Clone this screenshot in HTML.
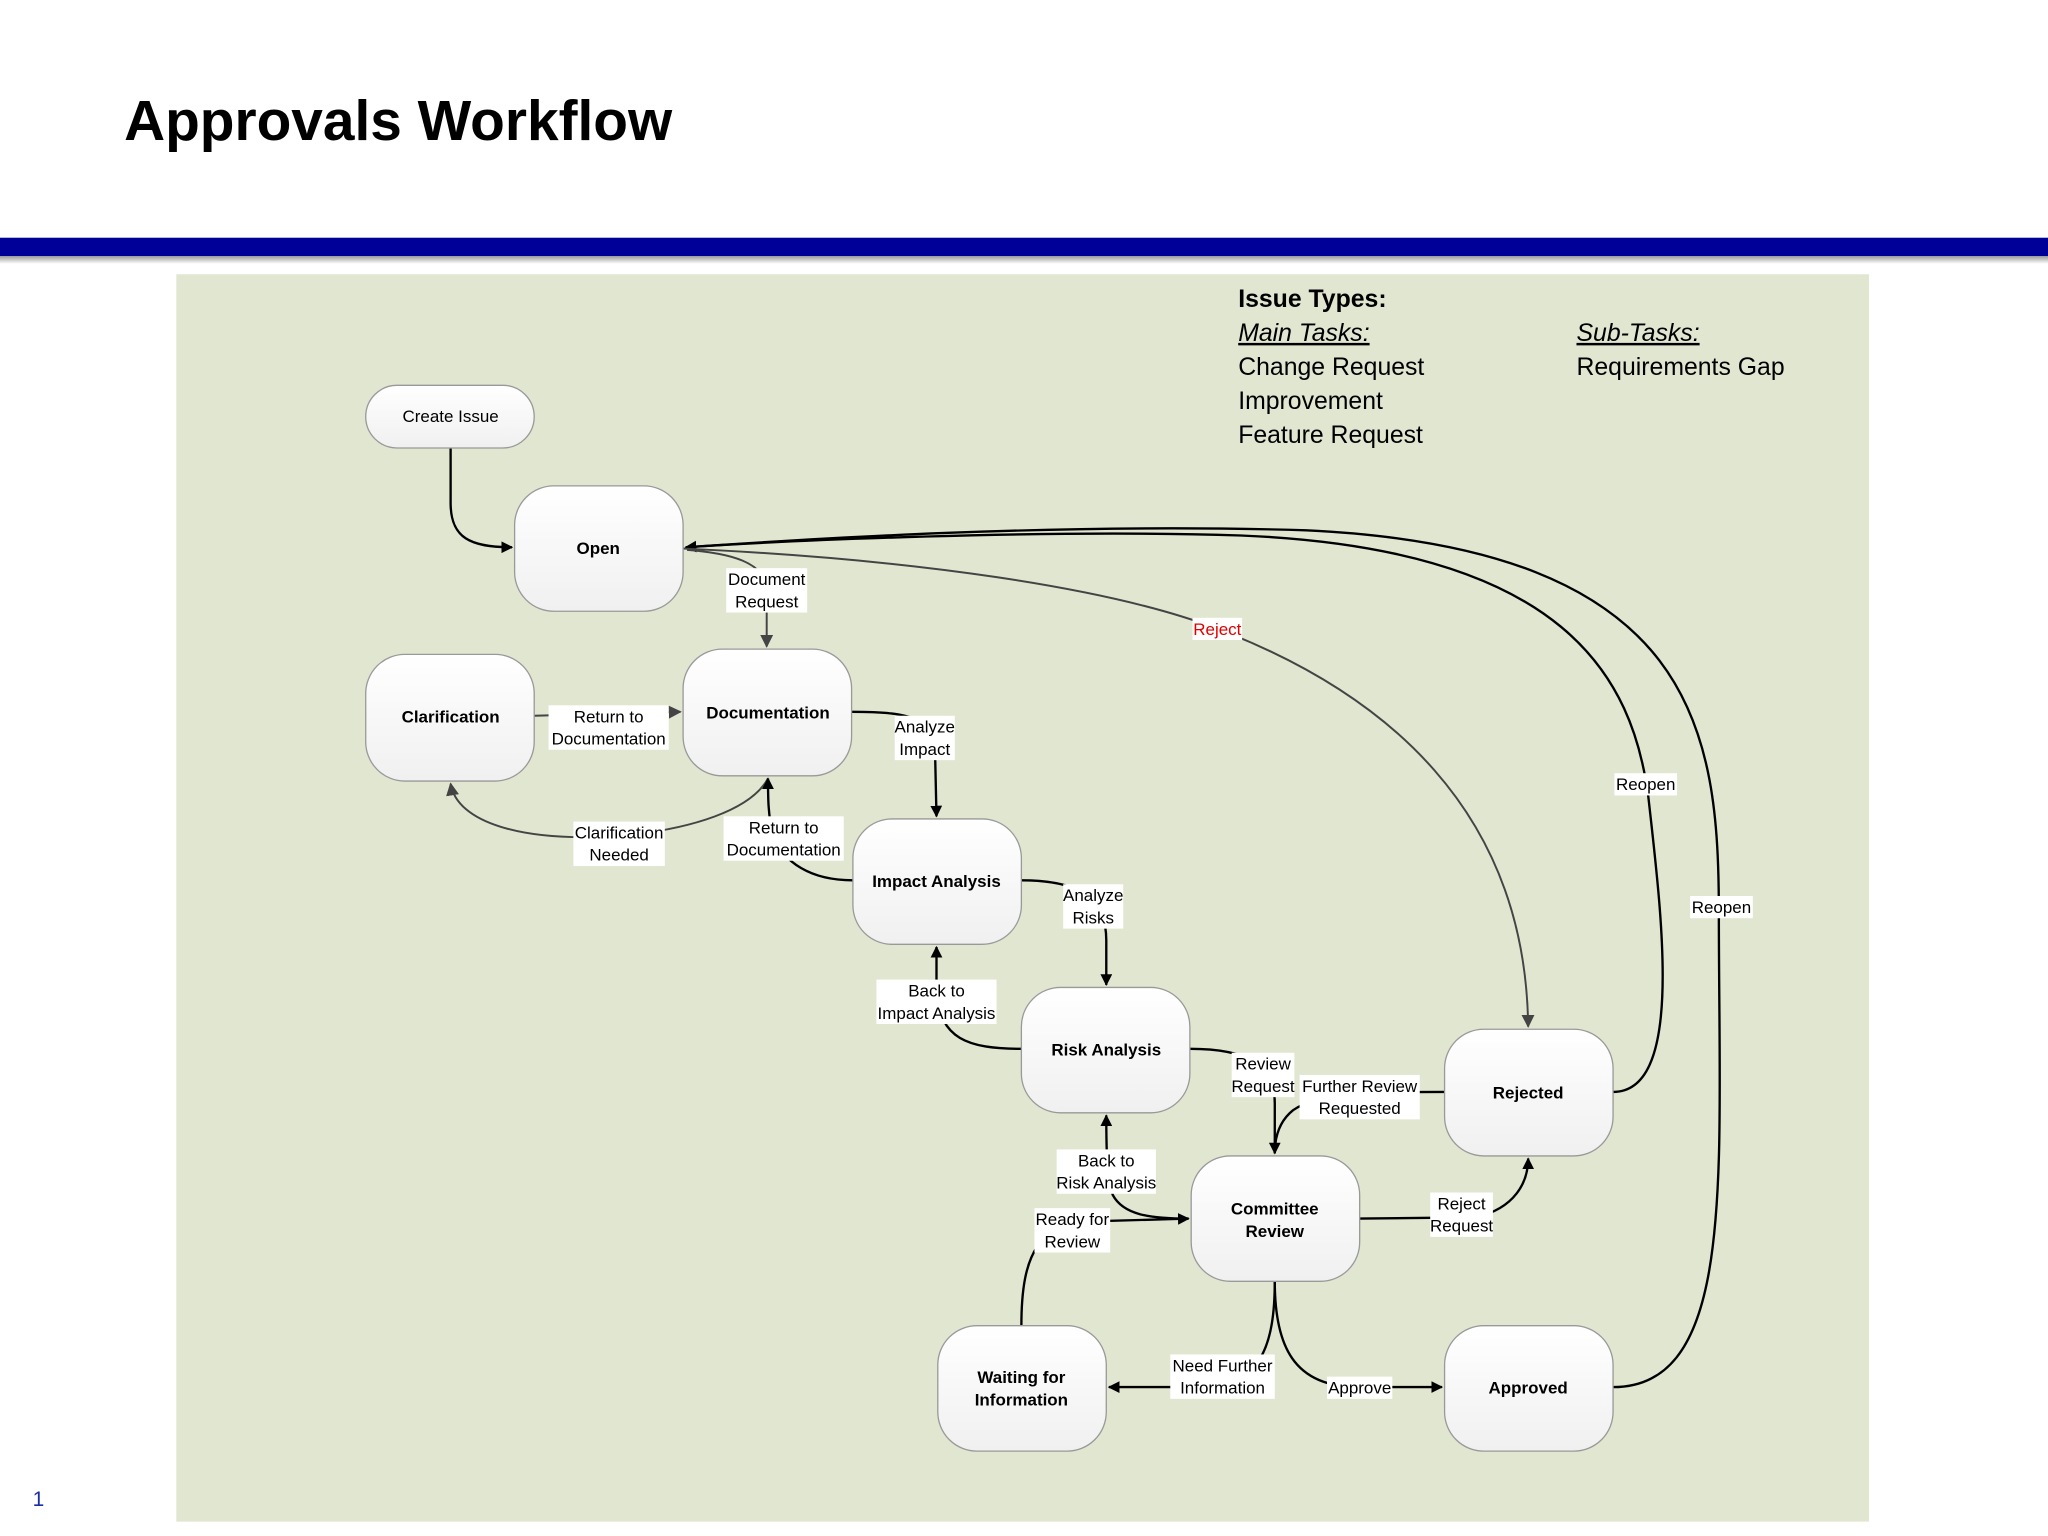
<!DOCTYPE html>
<html><head><meta charset="utf-8"><style>
html,body{margin:0;padding:0;background:#fff}
svg{display:block}
text{font-family:"Liberation Sans",sans-serif}
</style></head><body>
<svg width="2048" height="1536" viewBox="0 0 1568 1176" xmlns="http://www.w3.org/2000/svg">
<defs>
<linearGradient id="g" x1="0" y1="0" x2="0" y2="1"><stop offset="0" stop-color="#ffffff"/><stop offset="1" stop-color="#f0f0f0"/></linearGradient>
<linearGradient id="sh" x1="0" y1="0" x2="0" y2="1"><stop offset="0" stop-color="#999"/><stop offset="1" stop-color="#fff"/></linearGradient>
<marker id="a" viewBox="0 0 10 10" refX="9" refY="5" markerWidth="9" markerHeight="9" markerUnits="userSpaceOnUse" orient="auto"><path d="M0,0 L10,5 L0,10 z" fill="#000"/></marker>
<marker id="ag" viewBox="0 0 10 10" refX="9" refY="5" markerWidth="10" markerHeight="10" markerUnits="userSpaceOnUse" orient="auto"><path d="M0,0 L10,5 L0,10 z" fill="#444"/></marker>
</defs>
<rect width="1568" height="1176" fill="#fff"/>
<text x="95" y="107" font-size="43.5" font-weight="bold" fill="#000">Approvals Workflow</text>
<rect x="0" y="182" width="1568" height="14" fill="#000099"/>
<rect x="0" y="196" width="1568" height="6" fill="url(#sh)"/>
<rect x="135" y="210" width="1296" height="955" fill="#e0e6d0"/>
<text x="25" y="1153" font-size="16" fill="#1a2fa0">1</text>

<g font-size="19" fill="#000">
<text x="948" y="235" font-weight="bold">Issue Types:</text>
<text x="948" y="261" font-style="italic" text-decoration="underline">Main Tasks:</text>
<text x="948" y="287">Change Request</text>
<text x="948" y="313">Improvement</text>
<text x="948" y="339">Feature Request</text>
<text x="1207" y="261" font-style="italic" text-decoration="underline">Sub-Tasks:</text>
<text x="1207" y="287">Requirements Gap</text>
</g>

<g fill="none" stroke="#000" stroke-width="1.8">
<path d="M345,343 L345,385 C345,412 360,419 392,419" marker-end="url(#a)"/>
<path d="M1235,836 C1290,836 1272,700 1262,610 C1250,520 1200,420 950,410 C800,405 600,414 525,419" marker-end="url(#a)"/>
<path d="M1235,1062 C1330,1062 1316,900 1316,700 C1316,560 1300,420 1000,406 C800,400 600,414 525,419"/>
<path d="M523,420 C700,428 850,450 931,481 C1060,530 1168,620 1170,786" stroke="#444" stroke-width="1.5" marker-end="url(#ag)"/>
<path d="M526,421 C565,424 580,432 587,445" stroke="#444" stroke-width="1.5"/>
<path d="M587,468 L587,495" stroke="#444" stroke-width="1.5" marker-end="url(#ag)"/>
<path d="M409,548 L521,545" stroke="#444" stroke-width="1.5" marker-end="url(#ag)"/>
<path d="M588,596 C575,620 530,635 474,640 C400,645 350,630 345,600" stroke="#444" stroke-width="1.5" marker-end="url(#ag)"/>
<path d="M653,674 C620,674 600,660 592,640 C588,625 588,610 588,596" marker-end="url(#a)"/>
<path d="M652,545 C700,545 716,550 716,580 L717,625" marker-end="url(#a)"/>
<path d="M782,674 C830,674 847,690 847,720 L847,754" marker-end="url(#a)"/>
<path d="M782,803 C740,803 720,795 717,760 L717,725" marker-end="url(#a)"/>
<path d="M911,803 C955,803 976,815 976,845 L976,883" marker-end="url(#a)"/>
<path d="M1106,836 C1050,836 1010,836 990,850 C980,858 976,870 976,883"/>
<path d="M910,933 C880,933 860,930 852,915 C847,900 847,875 847,854" marker-end="url(#a)"/>
<path d="M782,1015 C782,960 795,935 840,935 L910,933" marker-end="url(#a)"/>
<path d="M1041,933 L1130,932 C1160,925 1170,905 1170,887" marker-end="url(#a)"/>
<path d="M976,981 C976,1030 965,1062 920,1062 L849,1062" marker-end="url(#a)"/>
<path d="M976,981 C976,1030 990,1062 1040,1062 L1104,1062" marker-end="url(#a)"/>
</g>

<g stroke="#999" stroke-width="1" fill="url(#g)">
<rect x="280" y="295" width="129" height="48" rx="24"/>
<rect x="394" y="372" width="129" height="96" rx="30"/>
<rect x="280" y="501" width="129" height="97" rx="30"/>
<rect x="523" y="497" width="129" height="97" rx="30"/>
<rect x="653" y="627" width="129" height="96" rx="30"/>
<rect x="782" y="756" width="129" height="96" rx="30"/>
<rect x="1106" y="788" width="129" height="97" rx="30"/>
<rect x="912" y="885" width="129" height="96" rx="30"/>
<rect x="718" y="1015" width="129" height="96" rx="30"/>
<rect x="1106" y="1015" width="129" height="96" rx="30"/>
</g>
<g font-size="13" text-anchor="middle" fill="#000">
<text x="345" y="323">Create Issue</text>
<g font-weight="bold">
<text x="458" y="424">Open</text>
<text x="345" y="553">Clarification</text>
<text x="588" y="550">Documentation</text>
<text x="717" y="679">Impact Analysis</text>
<text x="847" y="808">Risk Analysis</text>
<text x="1170" y="841">Rejected</text>
<text x="976" y="930">Committee</text><text x="976" y="947">Review</text>
<text x="782" y="1059">Waiting for</text><text x="782" y="1076">Information</text>
<text x="1170" y="1067">Approved</text>
</g>
</g>

<g fill="#fff">
<rect x="556" y="435" width="62" height="34"/>
<rect x="420" y="540" width="92" height="34"/>
<rect x="439" y="629" width="70" height="34"/>
<rect x="554" y="625" width="92" height="34"/>
<rect x="685" y="548" width="46" height="34"/>
<rect x="814" y="677" width="46" height="34"/>
<rect x="671" y="750" width="92" height="34"/>
<rect x="943" y="806" width="48" height="34"/>
<rect x="995" y="823" width="92" height="34"/>
<rect x="809" y="880" width="76" height="34"/>
<rect x="792" y="925" width="58" height="34"/>
<rect x="1095" y="913" width="48" height="34"/>
<rect x="896" y="1037" width="80" height="34"/>
<rect x="1016" y="1054" width="50" height="17"/>
<rect x="913" y="473" width="38" height="17"/>
<rect x="1236" y="592" width="48" height="17"/>
<rect x="1294" y="686" width="48" height="17"/>
</g>
<g font-size="13" text-anchor="middle" fill="#000">
<text x="587" y="448">Document</text><text x="587" y="465">Request</text>
<text x="466" y="553">Return to</text><text x="466" y="570">Documentation</text>
<text x="474" y="642">Clarification</text><text x="474" y="659">Needed</text>
<text x="600" y="638">Return to</text><text x="600" y="655">Documentation</text>
<text x="708" y="561">Analyze</text><text x="708" y="578">Impact</text>
<text x="837" y="690">Analyze</text><text x="837" y="707">Risks</text>
<text x="717" y="763">Back to</text><text x="717" y="780">Impact Analysis</text>
<text x="967" y="819">Review</text><text x="967" y="836">Request</text>
<text x="1041" y="836">Further Review</text><text x="1041" y="853">Requested</text>
<text x="847" y="893">Back to</text><text x="847" y="910">Risk Analysis</text>
<text x="821" y="938">Ready for</text><text x="821" y="955">Review</text>
<text x="1119" y="926">Reject</text><text x="1119" y="943">Request</text>
<text x="936" y="1050">Need Further</text><text x="936" y="1067">Information</text>
<text x="1041" y="1067">Approve</text>
<text x="932" y="486" fill="#e00000">Reject</text>
<text x="1260" y="605">Reopen</text>
<text x="1318" y="699">Reopen</text>
</g>
</svg>
</body></html>
